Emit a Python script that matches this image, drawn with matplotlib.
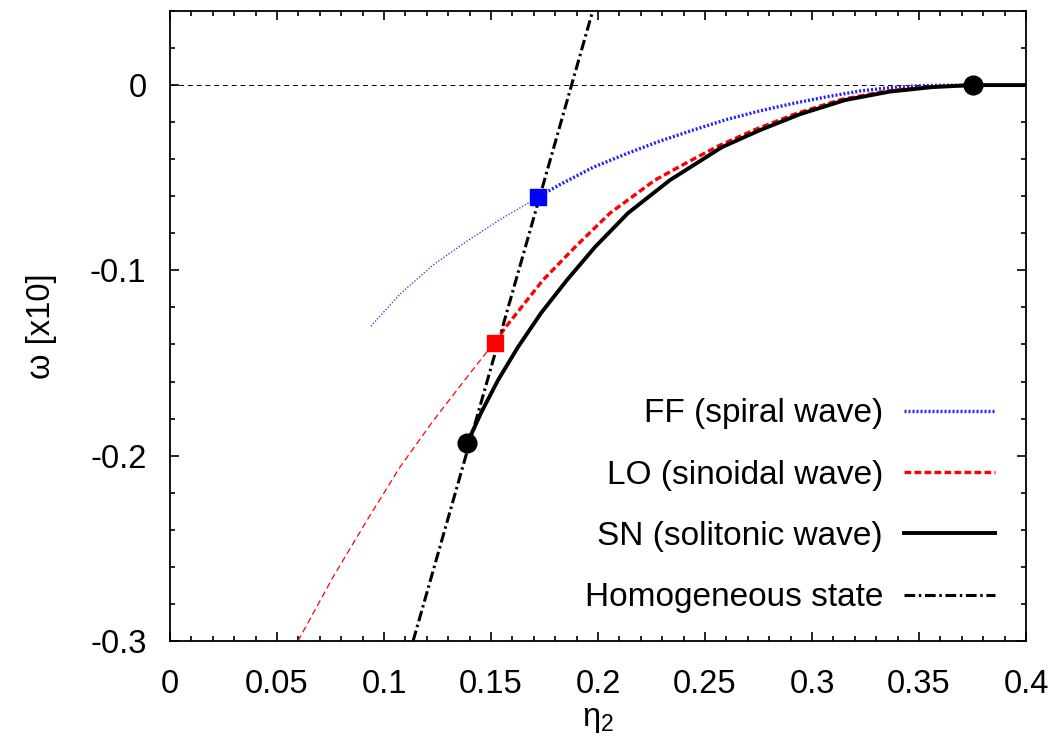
import matplotlib
matplotlib.use("Agg")
import matplotlib.pyplot as plt
from matplotlib.ticker import MultipleLocator

plt.rcParams['font.family'] = ['Liberation Sans', 'DejaVu Sans']
plt.rcParams['mathtext.default'] = 'regular'

# SN (solitonic wave)
sn_eta = [0.1388, 0.1421, 0.1453, 0.1533, 0.1626, 0.1734, 0.1855, 0.1986, 0.2140, 0.2336,
          0.2579, 0.2757, 0.2944, 0.3154, 0.3364, 0.3561, 0.3752, 0.4]
sn_omega = [-0.1932, -0.1851, -0.1770, -0.1592, -0.1414, -0.1230, -0.1052, -0.0874, -0.0691, -0.0513,
            -0.0335, -0.0243, -0.0157, -0.0081, -0.0035, -0.0011, 0.0, 0.0]

# LO (sinoidal wave): stable and unstable parts
lo_eta = [0.1519, 0.1565, 0.1621, 0.1743, 0.1893, 0.2056, 0.2266, 0.2411, 0.2561,
          0.2734, 0.2925, 0.3136, 0.3350, 0.3551, 0.3752]
lo_omega = [-0.1392, -0.1311, -0.1230, -0.1052, -0.0874, -0.0691, -0.0513, -0.0421, -0.0329,
            -0.0240, -0.0154, -0.0078, -0.0032, -0.0009, 0.0]
lo_u_eta = [0.0598, 0.0762, 0.0921, 0.1075, 0.1229, 0.1388, 0.1495, 0.1519]
lo_u_omega = [-0.3000, -0.2655, -0.2348, -0.2061, -0.1813, -0.1576, -0.1419, -0.1392]

# FF (spiral wave): stable and unstable parts
ff_eta = [0.1720, 0.1822, 0.1977, 0.2136, 0.2290, 0.2444, 0.2603, 0.2757, 0.2911,
          0.3070, 0.3224, 0.3379, 0.3537, 0.3752]
ff_omega = [-0.0604, -0.0537, -0.0444, -0.0369, -0.0302, -0.0243, -0.0185, -0.0139, -0.0099,
            -0.0063, -0.0032, -0.0012, -0.0002, 0.0]
ff_u_eta = [0.0939, 0.1075, 0.1229, 0.1388, 0.1542, 0.1682, 0.1720]
ff_u_omega = [-0.1301, -0.1128, -0.0971, -0.0842, -0.0726, -0.0631, -0.0604]

# homogeneous state
hom_eta = [0.1136, 0.1975]
hom_omega = [-0.30, 0.04]

# special points
circ_eta = [0.1388, 0.3752]
circ_omega = [-0.1932, 0.0]
lo_sq = (0.1519, -0.1392)
ff_sq = (0.1720, -0.0604)

fig = plt.figure(figsize=(10.56, 7.47), dpi=100)
ax = fig.add_axes([0.161, 0.142, 0.8106, 0.8433])

ax.plot([0, 0.4], [0, 0], color='black', lw=0.7, dashes=(5, 4), zorder=1)

ax.plot(ff_u_eta, ff_u_omega, color='#2020ff', lw=0.9, linestyle=(0, (1, 1.5)), zorder=2)
ax.plot(lo_u_eta, lo_u_omega, color='red', lw=0.9, linestyle=(0, (5, 3)), zorder=2)

ax.plot(ff_eta, ff_omega, color='#2020ff', lw=2.4, linestyle=(0, (0.6, 0.6)), zorder=3,
        label='FF (spiral wave)')
ax.plot(lo_eta, lo_omega, color='red', lw=2.4, linestyle=(0, (2, 1)), zorder=3,
        label='LO (sinoidal wave)')
ax.plot(sn_eta, sn_omega, color='black', lw=2.8, zorder=3, label='SN (solitonic wave)')
ax.plot(hom_eta, hom_omega, color='black', lw=2.2, linestyle=(0, (3.5, 1.2, 0.8, 1.2)),
        zorder=4, label='Homogeneous state')

ax.plot(circ_eta, circ_omega, 'o', color='black', ms=13.5, zorder=6)
ax.plot([lo_sq[0]], [lo_sq[1]], 's', color='red', ms=11, zorder=6)
ax.plot([ff_sq[0]], [ff_sq[1]], 's', color='blue', ms=11, zorder=6)

ax.set_xlim(0, 0.4)
ax.set_ylim(-0.3, 0.04)
ax.xaxis.set_major_locator(MultipleLocator(0.05))
ax.xaxis.set_minor_locator(MultipleLocator(0.01))
ax.yaxis.set_major_locator(MultipleLocator(0.1))
ax.yaxis.set_minor_locator(MultipleLocator(0.02))
ax.xaxis.set_major_formatter(plt.FuncFormatter(lambda v, p: f'{v:g}'))
ax.yaxis.set_major_formatter(plt.FuncFormatter(lambda v, p: f'{v:g}' if abs(v) > 1e-9 else '0'))
ax.tick_params(which='both', direction='in', top=True, right=True, labelsize=23.5, width=1.2)
ax.tick_params(which='major', length=6.5)
ax.tick_params(which='minor', length=3.4)
ax.tick_params(axis='x', which='major', pad=20)
ax.tick_params(axis='y', which='major', pad=17)
for s in ax.spines.values():
    s.set_linewidth(1.3)

ax.set_xlabel(r'$\eta_2$', fontsize=23.5)
ax.xaxis.set_label_coords(0.5, -0.1)
ax.set_ylabel('ω [x10]', fontsize=23.5)
ax.yaxis.set_label_coords(-0.132, 0.5)

ax.legend(loc='lower right', bbox_to_anchor=(0.9638, 0.044), frameon=False, markerfirst=False,
          fontsize=24, handlelength=2.73, handletextpad=0.63, labelspacing=0.91,
          borderpad=0, borderaxespad=0)

fig.savefig('out.png', dpi=100)
